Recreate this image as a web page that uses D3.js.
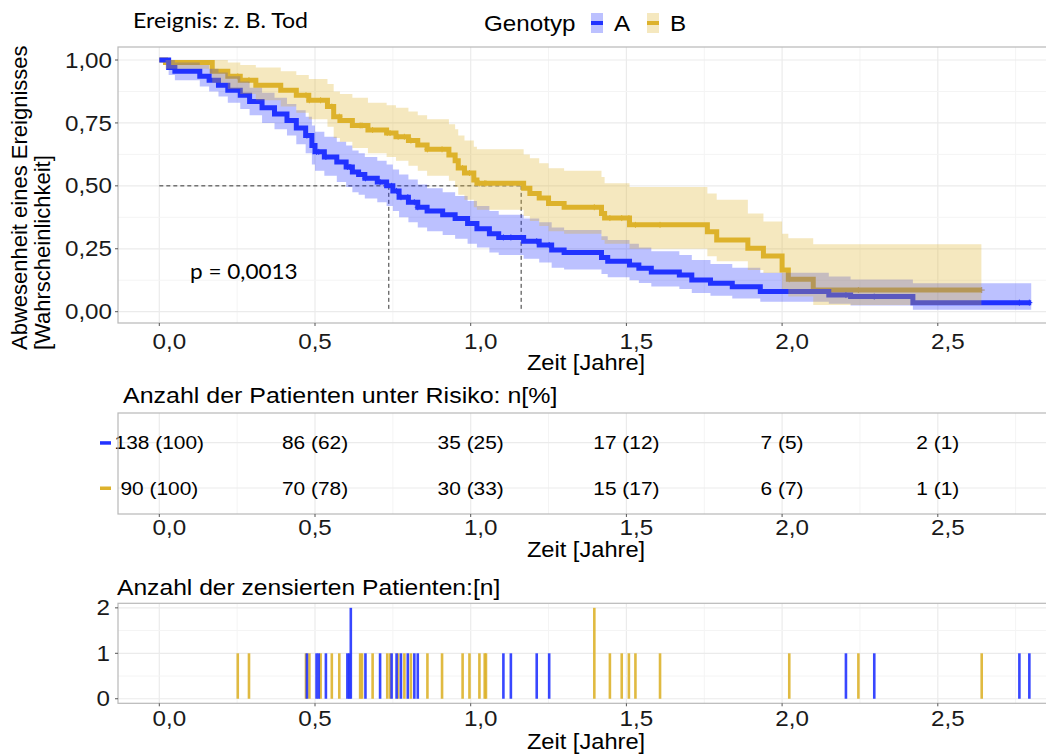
<!DOCTYPE html>
<html><head><meta charset="utf-8">
<script src="https://cdn.jsdelivr.net/npm/d3@7"></script>
<style>body{margin:0;background:#fff}svg{display:block}</style>
</head><body>
<svg id="c" width="1046" height="756"></svg>
<script>
// ---------------- DATA ----------------
const groups = ["A", "B"];
// Kaplan-Meier steps, genotype A
const timeA = [0,0.03,0.05,0.13,0.16,0.19,0.22,0.26,0.29,0.33,0.37,0.41,0.44,0.47,0.49,0.50,0.53,0.57,0.60,0.62,0.64,0.66,0.70,0.73,0.75,0.77,0.80,0.83,0.86,0.91,0.95,0.99,1.02,1.06,1.09,1.17,1.22,1.26,1.30,1.42,1.44,1.51,1.54,1.58,1.67,1.71,1.77,1.84,1.93,2.15,2.22,2.42,2.80];
const survA = [1,0.97,0.955,0.935,0.92,0.90,0.88,0.86,0.835,0.81,0.785,0.76,0.73,0.70,0.66,0.635,0.615,0.595,0.575,0.555,0.545,0.53,0.515,0.50,0.48,0.455,0.435,0.415,0.40,0.385,0.37,0.35,0.33,0.31,0.295,0.28,0.265,0.245,0.235,0.215,0.20,0.186,0.173,0.158,0.146,0.126,0.113,0.099,0.08,0.066,0.06,0.036,0.036];
const lowerA = [1,0.94,0.92,0.895,0.875,0.855,0.83,0.805,0.78,0.75,0.725,0.70,0.665,0.63,0.585,0.56,0.54,0.515,0.495,0.475,0.465,0.45,0.435,0.42,0.40,0.375,0.355,0.335,0.32,0.305,0.29,0.27,0.255,0.235,0.225,0.21,0.195,0.175,0.168,0.15,0.137,0.125,0.114,0.10,0.09,0.074,0.063,0.052,0.04,0.032,0.025,0.008,0.008];
const upperA = [1,1,0.99,0.98,0.965,0.95,0.935,0.915,0.89,0.87,0.85,0.825,0.80,0.775,0.74,0.715,0.695,0.675,0.66,0.64,0.63,0.615,0.60,0.585,0.565,0.545,0.525,0.505,0.49,0.475,0.46,0.44,0.42,0.40,0.385,0.37,0.355,0.335,0.325,0.30,0.285,0.27,0.255,0.24,0.225,0.205,0.19,0.175,0.155,0.14,0.128,0.113,0.113];
// Kaplan-Meier steps, genotype B
const timeB = [0,0.02,0.17,0.22,0.26,0.31,0.39,0.44,0.48,0.54,0.56,0.58,0.62,0.67,0.73,0.76,0.80,0.83,0.86,0.93,0.95,0.96,0.98,1.01,1.02,1.17,1.19,1.22,1.25,1.30,1.42,1.43,1.51,1.76,1.79,1.89,1.94,2.00,2.02,2.10,2.64];
const survB = [1,0.99,0.955,0.935,0.92,0.90,0.88,0.86,0.84,0.815,0.775,0.76,0.74,0.722,0.71,0.695,0.68,0.662,0.645,0.623,0.60,0.571,0.551,0.523,0.51,0.49,0.47,0.452,0.43,0.415,0.39,0.372,0.345,0.318,0.285,0.252,0.221,0.166,0.129,0.086,0.086];
const lowerB = [1,0.965,0.91,0.885,0.865,0.84,0.815,0.79,0.765,0.735,0.69,0.675,0.65,0.63,0.615,0.60,0.58,0.56,0.54,0.52,0.495,0.465,0.445,0.415,0.405,0.38,0.36,0.34,0.32,0.31,0.285,0.27,0.25,0.22,0.20,0.166,0.154,0.09,0.06,0.027,0.027];
const upperB = [1,1,1,0.99,0.98,0.97,0.955,0.94,0.925,0.905,0.875,0.865,0.85,0.83,0.82,0.81,0.795,0.78,0.765,0.745,0.725,0.70,0.68,0.655,0.645,0.625,0.61,0.59,0.57,0.56,0.535,0.51,0.495,0.47,0.445,0.39,0.358,0.31,0.292,0.268,0.268];
// censored patients (time in years, count)
const censorTimeA = [0.474,0.505,0.512,0.535,0.604,0.610,0.615,0.662,0.709,0.746,0.762,0.776,0.798,0.819,0.830,1.105,1.129,1.212,1.252,2.205,2.296,2.762,2.794];
const censorCountA = [1,1,1,1,1,1,2,1,1,1,1,1,1,1,1,1,1,1,1,1,1,1,1];
const censorTimeB = [0.252,0.288,0.471,0.482,0.518,0.554,0.578,0.645,0.651,0.685,0.732,0.741,0.767,0.787,0.808,0.861,0.908,0.974,0.996,1.028,1.045,1.049,1.397,1.447,1.485,1.508,1.529,1.608,2.023,2.245,2.641];
const censorCountB = [1,1,1,1,1,1,1,1,1,1,1,1,1,1,1,1,1,1,1,1,1,1,2,1,1,1,1,1,1,1,1];
// medians
const medianA = 0.737, medianB = 1.162;
// risk table
const riskTimes = [0,0.5,1.0,1.5,2.0,2.5];
const riskA = ["138 (100)","86 (62)","35 (25)","17 (12)","7 (5)","2 (1)"];
const riskB = ["90 (100)","70 (78)","30 (33)","15 (17)","6 (7)","1 (1)"];
// ticks
const xTicks = [0,0.5,1.0,1.5,2.0,2.5];
const xTickLabels = ["0,0","0,5","1,0","1,5","2,0","2,5"];
const yTicks = [0,0.25,0.5,0.75,1];
const yTickLabels = ["0,00","0,25","0,50","0,75","1,00"];
const cTicks = [0,1,2];
const cTickLabels = ["0","1","2"];
const pText = "p = 0,0013";
// --------------------------------------

const colA = "#2233FF", colB = "#DDB22C";
const cols = {A: colA, B: colB};
const svg = d3.select("#c");
const FONT = "'Liberation Sans', Arial, sans-serif";
const FONT2 = "Lato, 'Open Sans', sans-serif";
const SX = 1.1; // horizontal stretch of the reference typography

function txt(parent, px, py, str, size, anchor, family, color) {
  return parent.append("text")
    .attr("transform", `translate(${px},${py}) scale(${SX},1)`)
    .attr("text-anchor", anchor || "start").attr("dominant-baseline", "central")
    .attr("font-family", family || FONT).attr("font-size", size).attr("fill", color || "#000")
    .text(str);
}

const PL = 118, PR = 1052;
const x = d3.scaleLinear().domain([0, 2.5]).range([159.3, 937.8]);
const gridCol = "#EBEBEB", gridMinor = "#F4F4F4", borderCol = "#B8B8B8";

function xGrid(g, y0, y1) {
  const majors = d3.range(0, 3.01, 0.5), minors = d3.range(0.25, 3.01, 0.5);
  g.selectAll(null).data(minors).enter().append("line")
    .attr("x1", d => x(d)).attr("x2", d => x(d)).attr("y1", y0).attr("y2", y1)
    .attr("stroke", gridMinor).attr("stroke-width", 1);
  g.selectAll(null).data(majors).enter().append("line")
    .attr("x1", d => x(d)).attr("x2", d => x(d)).attr("y1", y0).attr("y2", y1)
    .attr("stroke", gridCol).attr("stroke-width", 1.2);
}
function xAxisBottom(y0, labelY, titleY) {
  const g = svg.append("g");
  g.selectAll(null).data(xTicks).enter().append("line")
    .attr("x1", d => x(d)).attr("x2", d => x(d)).attr("y1", y0).attr("y2", y0 + 3)
    .attr("stroke", "#555").attr("stroke-width", 1);
  xTicks.forEach((d, i) => txt(g, x(d) + (d === 0.5 ? 0 : 10), labelY, xTickLabels[i], 22, "middle", FONT, "#1a1a1a"));
  txt(svg, (PL + 1046) / 2 + 4, titleY, "Zeit [Jahre]", 21.5, "middle");
}

// ============ MAIN PANEL ============
const mT = 47, mB = 323;
const y = d3.scaleLinear().domain([0, 1]).range([311.7, 60]);
const main = svg.append("g");
main.append("rect").attr("x", PL).attr("y", mT).attr("width", PR - PL).attr("height", mB - mT).attr("fill", "#fff");
xGrid(main, mT, mB);
main.selectAll(null).data(d3.range(0.125, 1.01, 0.25)).enter().append("line")
  .attr("x1", PL).attr("x2", PR).attr("y1", d => y(d)).attr("y2", d => y(d))
  .attr("stroke", gridMinor);
main.selectAll(null).data(yTicks).enter().append("line")
  .attr("x1", PL).attr("x2", PR).attr("y1", d => y(d)).attr("y2", d => y(d))
  .attr("stroke", gridCol).attr("stroke-width", 1.2);

svg.append("clipPath").attr("id", "clipMain").append("rect")
  .attr("x", PL).attr("y", mT).attr("width", PR - PL).attr("height", mB - mT);
const plot = svg.append("g").attr("clip-path", "url(#clipMain)");

const lineGen = d3.line().x(d => x(d.t)).y(d => y(d.s)).curve(d3.curveStepAfter);
const areaGen = d3.area().x(d => x(d.t)).y0(d => y(d.lo)).y1(d => y(d.up)).curve(d3.curveStepAfter);
const seriesA = timeA.map((t, i) => ({t, s: survA[i], lo: lowerA[i], up: upperA[i]}));
const seriesB = timeB.map((t, i) => ({t, s: survB[i], lo: lowerB[i], up: upperB[i]}));

// median reference lines
const dash = "4,3";
plot.append("line").attr("x1", x(0)).attr("x2", x(medianB)).attr("y1", y(0.5)).attr("y2", y(0.5))
  .attr("stroke", "#333").attr("stroke-width", 1).attr("stroke-dasharray", dash);
[medianA, medianB].forEach(m => {
  plot.append("line").attr("x1", x(m)).attr("x2", x(m)).attr("y1", y(0.5)).attr("y2", y(0))
    .attr("stroke", "#333").attr("stroke-width", 1).attr("stroke-dasharray", dash);
});

// lines
plot.append("path").datum(seriesB).attr("d", lineGen).attr("fill", "none")
  .attr("stroke", colB).attr("stroke-width", 5);
plot.append("path").datum(seriesA).attr("d", lineGen).attr("fill", "none")
  .attr("stroke", colA).attr("stroke-width", 5);

// censor marks on curves
function survAt(times, surv, t) {
  let v = surv[0];
  for (let i = 0; i < times.length; i++) if (times[i] <= t) v = surv[i];
  return v;
}
function plusMarks(ct, times, surv, col) {
  ct.forEach(t => {
    const px = x(t), py = y(survAt(times, surv, t));
    plot.append("path").attr("d", `M${px-3},${py}H${px+3}M${px},${py-3}V${py+3}`)
      .attr("stroke", col).attr("stroke-width", 1);
  });
}
plusMarks(censorTimeA, timeA, survA, colA);
plusMarks(censorTimeB, timeB, survB, colB);

// ribbons
plot.append("path").datum(seriesA).attr("d", areaGen).attr("fill", colA).attr("fill-opacity", 0.3);
plot.append("path").datum(seriesB).attr("d", areaGen).attr("fill", colB).attr("fill-opacity", 0.3);

main.append("rect").attr("x", PL).attr("y", mT).attr("width", PR - PL).attr("height", mB - mT)
  .attr("fill", "none").attr("stroke", borderCol).attr("stroke-width", 1.2);

// y axis
svg.selectAll(null).data(yTicks).enter().append("line")
  .attr("x1", PL - 3).attr("x2", PL).attr("y1", d => y(d)).attr("y2", d => y(d))
  .attr("stroke", "#555");
yTicks.forEach((d, i) => txt(svg, 112, y(d), yTickLabels[i], 22, "end", FONT, "#1a1a1a"));
const yt = svg.append("text").attr("transform", "translate(27,350) rotate(-90)")
  .attr("font-family", FONT).attr("font-size", 22).attr("fill", "#000");
yt.append("tspan").attr("x", 0).attr("y", 0).text("Abwesenheit eines Ereignisses");
yt.append("tspan").attr("x", 0).attr("y", 23).text("[Wahrscheinlichkeit]");

xAxisBottom(mB, 341, 363);

// p value
txt(svg, 190, 271, pText, 20.5, "start", FONT2);

// title and legend
txt(svg, 133, 20, "Ereignis: z. B. Tod", 21, "start", FONT2);
txt(svg, 484, 23, "Genotyp", 22, "start");
const legX = {A: 591, B: 647};
groups.forEach(gk => {
  svg.append("rect").attr("x", legX[gk]).attr("y", 13).attr("width", 12).attr("height", 20)
    .attr("fill", cols[gk]).attr("fill-opacity", 0.3);
  svg.append("rect").attr("x", legX[gk]).attr("y", 21).attr("width", 12).attr("height", 4)
    .attr("fill", cols[gk]);
  txt(svg, legX[gk] + 23, 23, gk, 22, "start");
});

// ============ RISK TABLE ============
const rT = 413, rB = 514;
const rowY = d3.scalePoint().domain(groups).range([442.7, 488]);
txt(svg, 123, 395, "Anzahl der Patienten unter Risiko: n[%]", 22.7, "start");
const risk = svg.append("g");
risk.append("rect").attr("x", PL).attr("y", rT).attr("width", PR - PL).attr("height", rB - rT).attr("fill", "#fff");
xGrid(risk, rT, rB);
risk.selectAll(null).data(groups).enter().append("line")
  .attr("x1", PL).attr("x2", PR).attr("y1", d => rowY(d)).attr("y2", d => rowY(d))
  .attr("stroke", gridCol).attr("stroke-width", 1.2);
const riskRows = {A: riskA, B: riskB};
groups.forEach(gk => {
  riskTimes.forEach((d, i) => txt(risk, x(d), rowY(gk), riskRows[gk][i], 19, "middle"));
  svg.append("rect").attr("x", 100).attr("y", rowY(gk) - 1.5).attr("width", 11).attr("height", 3.5)
    .attr("fill", cols[gk]);
});
risk.append("rect").attr("x", PL).attr("y", rT).attr("width", PR - PL).attr("height", rB - rT)
  .attr("fill", "none").attr("stroke", borderCol).attr("stroke-width", 1.2);
xAxisBottom(rB, 527, 550);

// ============ CENSOR PANEL ============
const cT = 603.3, cB = 703.3;
const yc = d3.scaleLinear().domain([-0.1, 2.1]).range([cB, cT]);
txt(svg, 117, 587, "Anzahl der zensierten Patienten:[n]", 22.4, "start");
const cen = svg.append("g");
cen.append("rect").attr("x", PL).attr("y", cT).attr("width", PR - PL).attr("height", cB - cT).attr("fill", "#fff");
xGrid(cen, cT, cB);
cen.selectAll(null).data([0.5, 1.5]).enter().append("line")
  .attr("x1", PL).attr("x2", PR).attr("y1", d => yc(d)).attr("y2", d => yc(d)).attr("stroke", gridMinor);
cen.selectAll(null).data(cTicks).enter().append("line")
  .attr("x1", PL).attr("x2", PR).attr("y1", d => yc(d)).attr("y2", d => yc(d))
  .attr("stroke", gridCol).attr("stroke-width", 1.2);
function bars(times, counts, col) {
  cen.selectAll(null).data(times).enter().append("rect")
    .attr("x", d => x(d) - 1.3).attr("width", 2.6)
    .attr("y", (d, i) => yc(counts[i])).attr("height", (d, i) => yc(0) - yc(counts[i]))
    .attr("fill", col).attr("fill-opacity", 0.9);
}
bars(censorTimeB, censorCountB, colB);
bars(censorTimeA, censorCountA, colA);
cen.append("rect").attr("x", PL).attr("y", cT).attr("width", PR - PL).attr("height", cB - cT)
  .attr("fill", "none").attr("stroke", borderCol).attr("stroke-width", 1.2);
svg.selectAll(null).data(cTicks).enter().append("line")
  .attr("x1", PL - 3).attr("x2", PL).attr("y1", d => yc(d)).attr("y2", d => yc(d)).attr("stroke", "#555");
cTicks.forEach((d, i) => txt(svg, 110, yc(d), cTickLabels[i], 22, "end", FONT, "#1a1a1a"));
xAxisBottom(cB, 718, 742);
</script>
</body></html>
